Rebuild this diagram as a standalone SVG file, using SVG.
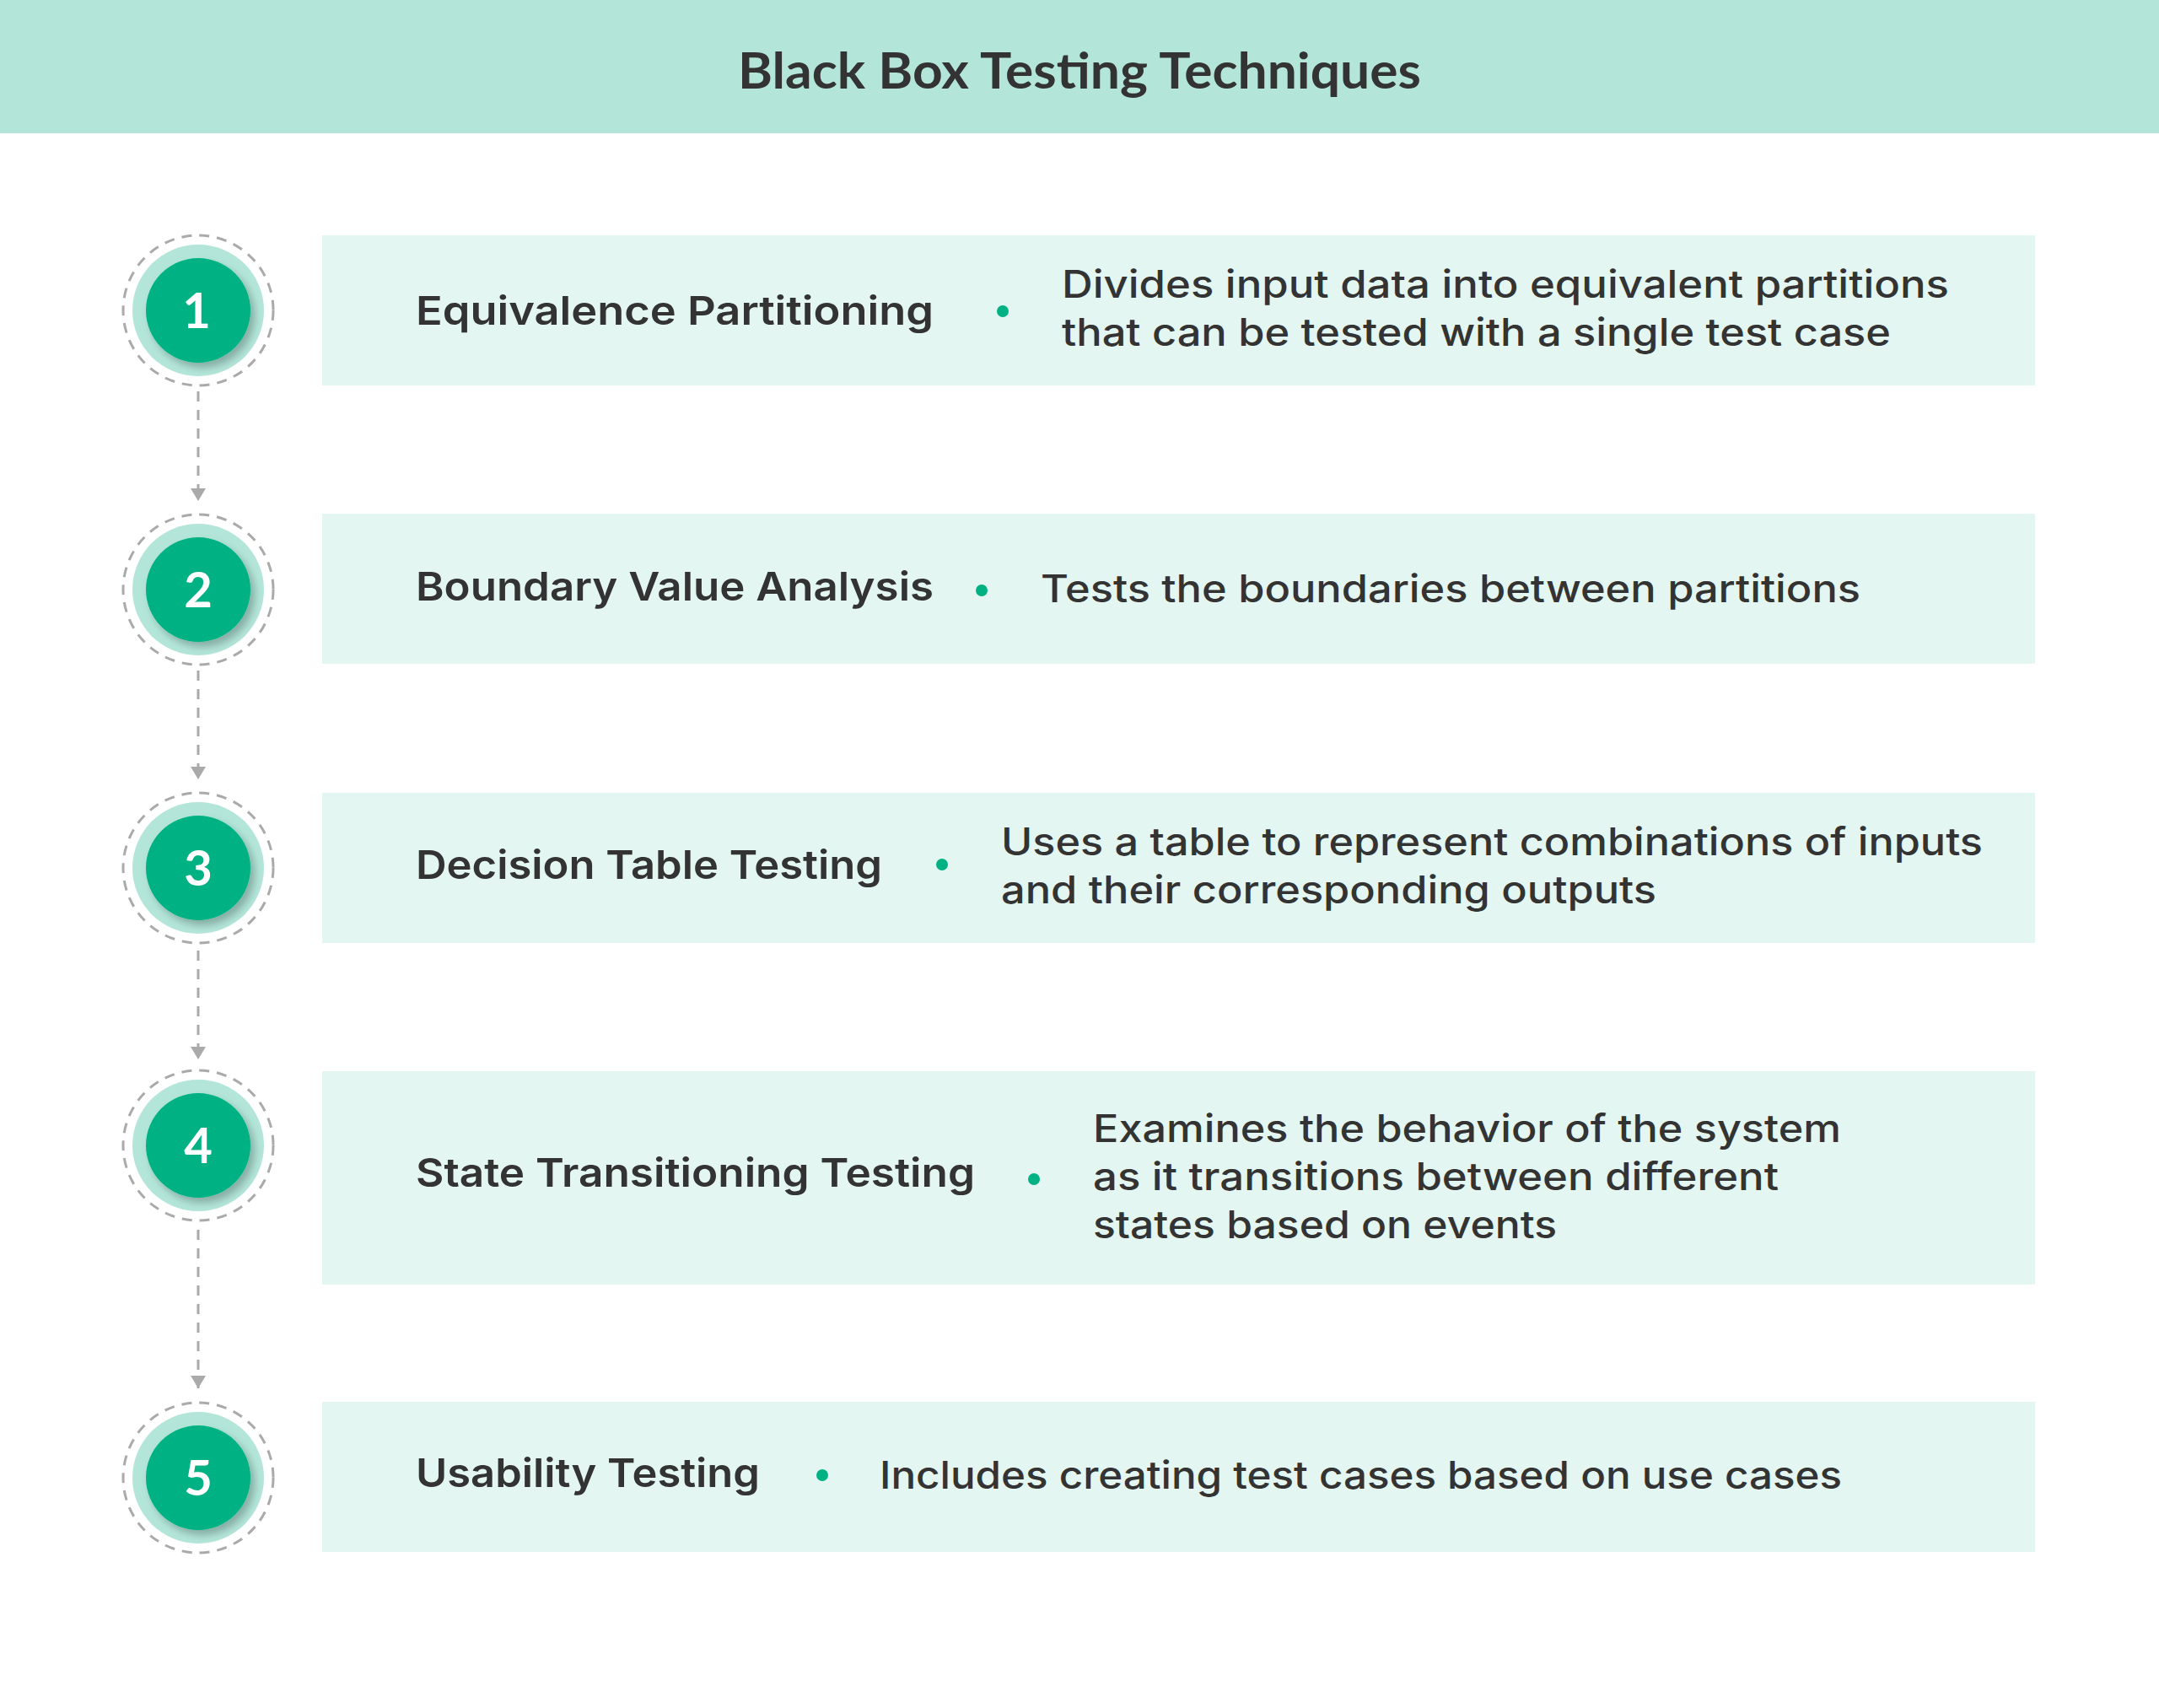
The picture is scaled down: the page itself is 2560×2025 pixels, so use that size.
<svg xmlns="http://www.w3.org/2000/svg" width="2560" height="2025" viewBox="0 0 2560 2025">
<defs>
<style>
.ttl{font-family:Lato,"Liberation Sans",sans-serif;font-weight:700;font-size:60px;fill:#333;}
.h{font-family:Inter,"Liberation Sans",sans-serif;font-weight:600;font-size:47px;fill:#333;}
.d{font-family:Inter,"Liberation Sans",sans-serif;font-weight:500;font-size:45px;fill:#333;}
.num{font-family:Lato,"Liberation Sans",sans-serif;font-weight:700;font-size:58px;fill:#fff;}
.panel{fill:#e3f6f1;}
.dash{fill:none;stroke:#aaa;stroke-width:3;stroke-dasharray:12 9;}
.ring{fill:#b3e6d9;}
.core{fill:#00b283;filter:url(#sh);}
.dot{fill:#00b283;}
.conn{stroke:#aaa;stroke-width:3;stroke-dasharray:12 10;fill:none;marker-end:url(#ar);}
</style>
<filter id="sh" x="-30%" y="-30%" width="160%" height="160%"><feDropShadow dx="5" dy="6" stdDeviation="5" flood-color="#000" flood-opacity="0.25"/></filter>
<marker id="ar" markerWidth="5" markerHeight="6" refX="5" refY="3" orient="auto" markerUnits="strokeWidth"><path d="M0,0 L5,3 L0,6 z" fill="#aaa"/></marker>
</defs>
<rect width="2560" height="2025" fill="#fff"/>
<g id="header"><rect x="0" y="0" width="2560" height="158" fill="#b3e6d9"/><text class="ttl" x="875" y="105" textLength="810" lengthAdjust="spacingAndGlyphs">Black Box Testing Techniques</text></g>
<g id="connectors">
<line class="conn" x1="235" y1="464" x2="235" y2="594"/>
<line class="conn" x1="235" y1="795" x2="235" y2="924"/>
<line class="conn" x1="235" y1="1127" x2="235" y2="1256"/>
<line class="conn" x1="235" y1="1458" x2="235" y2="1646"/>
</g>
<g id="node1"><rect class="panel" x="382" y="279" width="2031" height="178"/><circle class="dash" cx="235" cy="368" r="89"/><circle class="ring" cx="235" cy="368" r="78"/><circle class="core" cx="235" cy="368" r="62"/><text class="num" x="233" y="389" text-anchor="middle">1</text>
<text class="h" x="493" y="385" textLength="614" lengthAdjust="spacingAndGlyphs">Equivalence Partitioning</text><circle class="dot" cx="1189" cy="369" r="7"/><text class="d" x="1259" y="353" textLength="1052" lengthAdjust="spacingAndGlyphs">Divides input data into equivalent partitions</text><text class="d" x="1259" y="410" textLength="983" lengthAdjust="spacingAndGlyphs">that can be tested with a single test case</text></g>
<g id="node2"><rect class="panel" x="382" y="609" width="2031" height="178"/><circle class="dash" cx="235" cy="699" r="89"/><circle class="ring" cx="235" cy="699" r="78"/><circle class="core" cx="235" cy="699" r="62"/><text class="num" x="235" y="720" text-anchor="middle">2</text>
<text class="h" x="493" y="712" textLength="614" lengthAdjust="spacingAndGlyphs">Boundary Value Analysis</text><circle class="dot" cx="1164" cy="700" r="7"/><text class="d" x="1234" y="714" textLength="972" lengthAdjust="spacingAndGlyphs">Tests the boundaries between partitions</text></g>
<g id="node3"><rect class="panel" x="382" y="940" width="2031" height="178"/><circle class="dash" cx="235" cy="1029" r="89"/><circle class="ring" cx="235" cy="1029" r="78"/><circle class="core" cx="235" cy="1029" r="62"/><text class="num" x="235" y="1050" text-anchor="middle">3</text>
<text class="h" x="493" y="1042" textLength="553" lengthAdjust="spacingAndGlyphs">Decision Table Testing</text><circle class="dot" cx="1117" cy="1025" r="7"/><text class="d" x="1187" y="1014" textLength="1164" lengthAdjust="spacingAndGlyphs">Uses a table to represent combinations of inputs</text><text class="d" x="1187" y="1071" textLength="777" lengthAdjust="spacingAndGlyphs">and their corresponding outputs</text></g>
<g id="node4"><rect class="panel" x="382" y="1270" width="2031" height="253"/><circle class="dash" cx="235" cy="1358" r="89"/><circle class="ring" cx="235" cy="1358" r="78"/><circle class="core" cx="235" cy="1358" r="62"/><text class="num" x="235" y="1379" text-anchor="middle">4</text>
<text class="h" x="493" y="1407" textLength="663" lengthAdjust="spacingAndGlyphs">State Transitioning Testing</text><circle class="dot" cx="1226" cy="1398" r="7"/><text class="d" x="1296" y="1354" textLength="887" lengthAdjust="spacingAndGlyphs">Examines the behavior of the system</text><text class="d" x="1296" y="1411" textLength="813" lengthAdjust="spacingAndGlyphs">as it transitions between different</text><text class="d" x="1296" y="1468" textLength="550" lengthAdjust="spacingAndGlyphs">states based on events</text></g>
<g id="node5"><rect class="panel" x="382" y="1662" width="2031" height="178"/><circle class="dash" cx="235" cy="1752" r="89"/><circle class="ring" cx="235" cy="1752" r="78"/><circle class="core" cx="235" cy="1752" r="62"/><text class="num" x="235" y="1773" text-anchor="middle">5</text>
<text class="h" x="493" y="1763" textLength="408" lengthAdjust="spacingAndGlyphs">Usability Testing</text><circle class="dot" cx="975" cy="1749" r="7"/><text class="d" x="1043" y="1765" textLength="1141" lengthAdjust="spacingAndGlyphs">Includes creating test cases based on use cases</text></g>
</svg>
